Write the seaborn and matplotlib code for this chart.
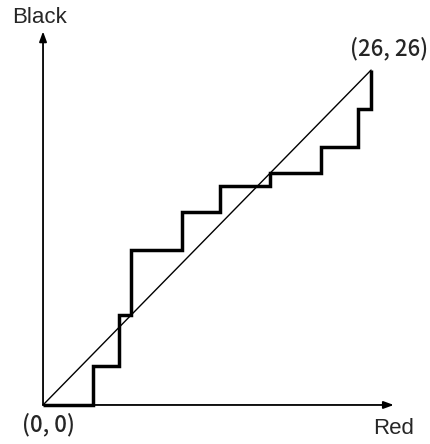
import numpy as np
import pandas as pd
import matplotlib
matplotlib.use("Agg")
import matplotlib.pyplot as plt
import seaborn as sns

# Lattice path: alternating runs of Red (horizontal) and Black (vertical) steps
red_runs = [4, 2, 1, 4, 3, 4, 4, 3, 1]
black_runs = [3, 4, 5, 3, 2, 1, 2, 3, 3]
end_point = (26, 26)
start_label = "(0, 0)"
end_label = "(26, 26)"
x_label = "Red"
y_label = "Black"

# Build path vertices from the runs
xs, ys = [0], [0]
cx, cy = 0, 0
for r, b in zip(red_runs, black_runs):
    cx += r
    xs.append(cx); ys.append(cy)
    cy += b
    xs.append(cx); ys.append(cy)
path = pd.DataFrame({"x": xs, "y": ys})
diag = pd.DataFrame({"x": [0, end_point[0]], "y": [0, end_point[1]]})

sns.set_style("white")
plt.rcParams['font.family'] = ['Liberation Sans', 'DejaVu Sans']

fig = plt.figure(figsize=(4.30, 4.44), dpi=100)
ax = fig.add_axes([0, 0, 1, 1])
ax.set_xlim(-3.41, 30.67)
ax.set_ylim(-3.03, 31.44)
ax.axis("off")

sns.lineplot(data=diag, x="x", y="y", sort=False, estimator=None, ax=ax,
             color="black", linewidth=1.0, legend=False)
sns.lineplot(data=path, x="x", y="y", sort=False, estimator=None, ax=ax,
             color="black", linewidth=2.5, legend=False,
             solid_joinstyle="miter", solid_capstyle="butt")

# Axes arrows
arrow_kw = dict(arrowstyle="-|>,head_length=0.6,head_width=0.22", color="black",
                lw=1.3, shrinkA=0, shrinkB=0)
ax.annotate("", xy=(27.8, 0), xytext=(0, 0), arrowprops=arrow_kw)
ax.annotate("", xy=(0, 29.0), xytext=(0, 0), arrowprops=arrow_kw)

ax.text(-0.3, 30.1, y_label, ha="center", va="center", fontsize=16)
ax.text(27.8, -1.8, x_label, ha="center", va="center", fontsize=16)
ax.text(0.4, -1.5, start_label, ha="center", va="center", fontsize=16,
        family=['Noto Sans CJK JP', 'DejaVu Sans'], weight="medium")
ax.text(27.4, 27.7, end_label, ha="center", va="center", fontsize=16,
        family=['Noto Sans CJK JP', 'DejaVu Sans'], weight="medium")

fig.savefig("out.png", dpi=100)
